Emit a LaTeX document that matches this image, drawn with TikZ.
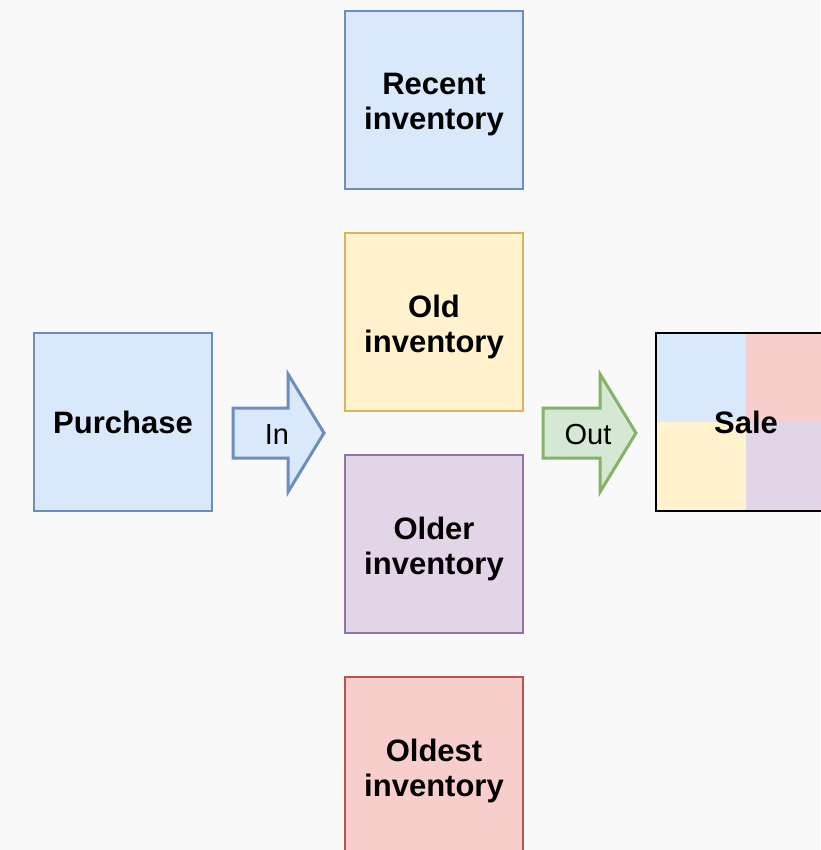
\documentclass[tikz,border=0pt]{standalone}
\usepackage{fontspec}
\setmainfont{Liberation Sans}
\definecolor{bgc}{RGB}{249,249,249}
\definecolor{bluef}{HTML}{DAE8FC}\definecolor{blued}{HTML}{6C8EBF}
\definecolor{yelf}{HTML}{FFF2CC}\definecolor{yeld}{HTML}{D6B656}
\definecolor{purf}{HTML}{E1D5E7}\definecolor{purd}{HTML}{9673A6}
\definecolor{redf}{HTML}{F8CECC}\definecolor{redd}{HTML}{B85450}
\definecolor{grnf}{HTML}{D5E8D4}\definecolor{grnd}{HTML}{82B366}
\begin{document}
\begin{tikzpicture}[x=1pt,y=-1pt,
  box/.style={draw, line width=1.5pt, minimum width=178pt, minimum height=178pt,
    inner sep=0pt, align=center, font=\fontsize{31}{35}\selectfont\bfseries},
  boxtext/.style={inner sep=0pt, align=center, font=\fontsize{31}{35}\selectfont\bfseries},
  bigarrow/.style={line width=3pt, line join=miter},
  arrowtext/.style={inner sep=0pt, font=\fontsize{29}{32}\selectfont}]
\useasboundingbox (0,0) rectangle (820,850);
\fill[bgc] (0,0) rectangle (820,850);
% inventory boxes
\node[box, fill=bluef, draw=blued] (recent) at (434,100) {};
\node[boxtext] (recentT) at ([yshift=-4.5pt]recent.center) {Recent\\inventory};
\node[box, fill=yelf, draw=yeld] (old) at (434,322) {};
\node[boxtext] (oldT) at ([yshift=-4.5pt]old.center) {Old\\inventory};
\node[box, fill=purf, draw=purd] (older) at (434,544) {};
\node[boxtext] (olderT) at ([yshift=-4.5pt]older.center) {Older\\inventory};
\node[box, fill=redf, draw=redd] (oldest) at (434,766) {};
\node[boxtext] (oldestT) at ([yshift=-4.5pt]oldest.center) {Oldest\\inventory};
% purchase
\node[box, fill=bluef, draw=blued] (purchase) at (123,422) {Purchase};
% sale quadrants
\fill[bluef] (656,333) rectangle (746,422);
\fill[redf] (746,333) rectangle (836,422);
\fill[yelf] (656,422) rectangle (746,511);
\fill[purf] (746,422) rectangle (836,511);
\node[box, draw=black, line width=2pt, minimum width=180pt] (sale) at (746,422) {Sale};
% arrows
\draw[bigarrow, fill=bluef, draw=blued] (233,408) -- (288,408) -- (288,374) -- (324,433)
  -- (288,492) -- (288,458) -- (233,458) -- cycle;
\node[arrowtext] (in) at (277,435) {In};
\draw[bigarrow, fill=grnf, draw=grnd] (543,408) -- (600,408) -- (600,374) -- (636,433)
  -- (600,492) -- (600,458) -- (543,458) -- cycle;
\node[arrowtext] (out) at (588,435) {Out};
\end{tikzpicture}
\end{document}
